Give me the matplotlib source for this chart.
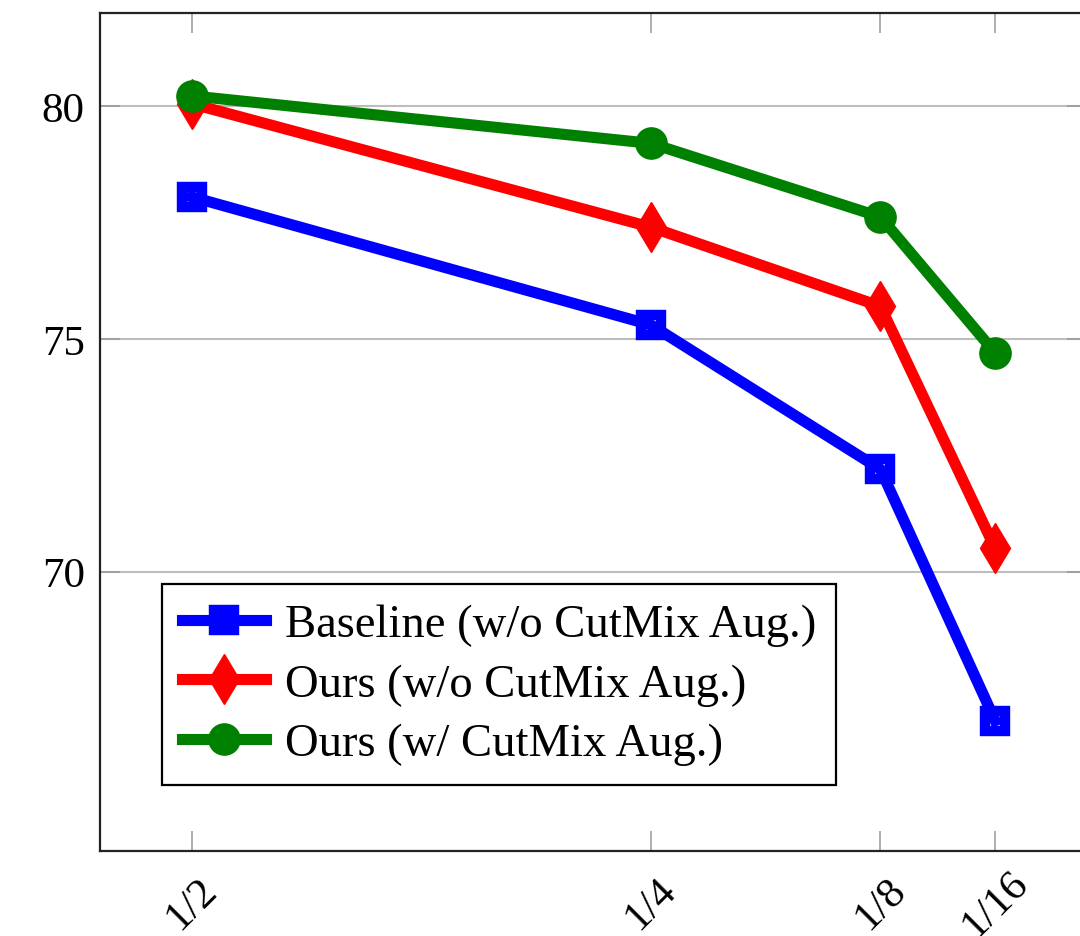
import matplotlib
matplotlib.use("Agg")
import matplotlib.pyplot as plt

plt.rcParams['font.family'] = ['Liberation Serif', 'DejaVu Serif']

x_vals = [1/2, 1/4, 1/8, 1/16]
x_labels = ["1/2", "1/4", "1/8", "1/16"]
baseline = [78.05, 75.3, 72.2, 66.8]
ours_wo = [80.05, 77.4, 75.7, 70.5]
ours_w = [80.22, 79.2, 77.62, 74.7]
series_names = ["Baseline (w/o CutMix Aug.)", "Ours (w/o CutMix Aug.)", "Ours (w/ CutMix Aug.)"]

W, H = 1080, 937
fig = plt.figure(figsize=(W/100, H/100), dpi=100)
left, right, top, bottom = 100, 1087, 14, 852
ax = fig.add_axes([left/W, 1-bottom/H, (right-left)/W, (bottom-top)/H])

green = (0, 0.5, 0)
lw = 8
ax.plot(x_vals, baseline, color='blue', lw=lw, marker='s', ms=14, mfc='none',
        mec='blue', mew=7.5, label=series_names[0], zorder=3)
ax.plot(x_vals, ours_wo, color='red', lw=lw, marker='d', ms=25, mfc='red',
        mec='red', mew=1, label=series_names[1], zorder=3)
ax.plot(x_vals, ours_w, color=green, lw=lw, marker='o', ms=22.5, mfc=green,
        mec=green, mew=1, label=series_names[2], zorder=4)

ax.set_xlim(0.55, 0.0125)
ax.set_ylim(64, 82)
ax.set_xticks(x_vals)
ax.set_xticklabels(x_labels, rotation=45, ha='center', va='center', rotation_mode='anchor')
ax.set_yticks([70, 75, 80])
ax.yaxis.grid(True, color='#bdbdbd', lw=1.5)
ax.set_axisbelow(True)

ax.tick_params(axis='both', direction='in', length=14.5, width=1.1, color='#999999',
               labelsize=31, top=True, right=True)
ax.tick_params(axis='x', pad=38)
ax.tick_params(axis='y', pad=11)
for s in ax.spines.values():
    s.set_linewidth(1.6)
    s.set_color('#222222')

leg = ax.legend(loc='upper left', bbox_to_anchor=(162/W, 1-585/H),
                bbox_transform=fig.transFigure, borderaxespad=0,
                fontsize=33.6, fancybox=False, framealpha=1, edgecolor='black',
                handlelength=1.8, handletextpad=0.42, labelspacing=0.36,
                borderpad=0.42)
leg.get_frame().set_linewidth(1.6)

fig.savefig("out.png", dpi=100)
